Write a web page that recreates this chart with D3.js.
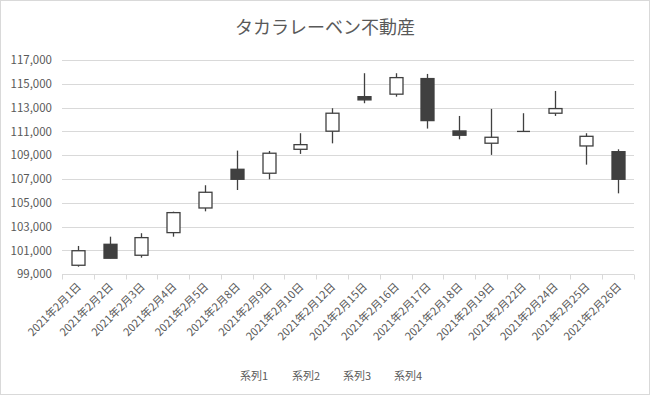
<!DOCTYPE html>
<html><head><meta charset="utf-8">
<script src="https://cdn.jsdelivr.net/npm/d3@7"></script>
<style>body{margin:0;background:#fff}svg{display:block}text{font-family:"Noto Sans CJK JP","Noto Sans",sans-serif}</style>
</head><body><svg id="c" width="650" height="395"></svg>
<script>
const categories = ["2021年2月1日","2021年2月2日","2021年2月3日","2021年2月4日","2021年2月5日","2021年2月8日","2021年2月9日","2021年2月10日","2021年2月12日","2021年2月15日","2021年2月16日","2021年2月17日","2021年2月18日","2021年2月19日","2021年2月22日","2021年2月24日","2021年2月25日","2021年2月26日"];
const openV  = [99760,101520,100600,102500,104570,107820,107490,109500,111020,113920,114130,115440,111040,110010,111000,112530,109780,109300];
const highV  = [101380,102160,102450,104260,106480,109390,109360,110850,112950,115890,115890,115830,112300,112890,112530,114400,110850,109500];
const lowV   = [99640,100340,100400,102160,104290,106080,106980,109110,110000,113370,113920,111240,110340,109030,111000,112300,108210,105800];
const closeV = [100980,100350,102080,104180,105890,106980,109170,109890,112530,113650,115520,111910,110680,110510,111000,112920,110590,106980];
const yTicks = [99000,101000,103000,105000,107000,109000,111000,113000,115000,117000];
const seriesNames = ["系列1","系列2","系列3","系列4"];
const title = "タカラレーベン不動産";

const svg = d3.select("#c");
svg.append("rect").attr("x",0.5).attr("y",0.5).attr("width",649).attr("height",394).attr("fill","#fff").attr("stroke","#d9d9d9");
svg.append("text").attr("x",325).attr("y",34).attr("text-anchor","middle").attr("font-size",18).attr("fill","#595959").text(title);

const L=62,R=634,T=60,B=274.3;
const x = d3.scaleBand().domain(categories).range([L,R]);
const y = d3.scaleLinear().domain([99000,117000]).range([B,T]);

const g = svg.append("g");
g.selectAll(".grid").data(yTicks.slice(1)).join("line")
 .attr("x1",L).attr("x2",R).attr("y1",d=>Math.round(y(d))+0.5).attr("y2",d=>Math.round(y(d))+0.5)
 .attr("stroke","#d9d9d9").attr("stroke-width",1);

const yAxis = svg.append("g").attr("transform",`translate(${L},0)`)
 .call(d3.axisLeft(y).tickValues(yTicks).tickFormat(d3.format(",")).tickSize(0).tickPadding(10));
yAxis.select(".domain").remove();
yAxis.selectAll("text").attr("font-size",11.5).attr("fill","#595959");

const by = Math.round(B)+0.5;
svg.append("line").attr("x1",L).attr("x2",R).attr("y1",by).attr("y2",by).attr("stroke","#d9d9d9");
const bounds = categories.map(c=>x(c)).concat([R]);
svg.selectAll(".xt").data(bounds).join("line").attr("x1",d=>Math.round(d)+0.5).attr("x2",d=>Math.round(d)+0.5)
 .attr("y1",by).attr("y2",by+5).attr("stroke","#d9d9d9");

svg.selectAll(".xl").data(categories).join("text")
 .attr("transform",d=>`translate(${x(d)+x.bandwidth()/2+4},${by+13}) rotate(-45)`)
 .attr("text-anchor","end").attr("font-size",11).attr("fill","#595959").text(d=>d);

const data = categories.map((c,i)=>({c,o:openV[i],h:highV[i],l:lowV[i],cl:closeV[i]}));
const bw = 13;
const cg = svg.append("g");
data.forEach(d=>{
  const cx = Math.round(x(d.c)+x.bandwidth()/2)+0.5;
  cg.append("line").attr("x1",cx).attr("x2",cx).attr("y1",y(d.h)).attr("y2",y(d.l)).attr("stroke","#404040").attr("stroke-width",1.3);
  const top = y(Math.max(d.o,d.cl)), bot = y(Math.min(d.o,d.cl));
  const up = d.cl>=d.o;
  if (d.o===d.cl) {
    cg.append("line").attr("x1",cx-bw/2).attr("x2",cx+bw/2).attr("y1",top).attr("y2",top).attr("stroke","#404040").attr("stroke-width",1.3);
  } else {
    cg.append("rect").attr("x",cx-bw/2).attr("y",top).attr("width",bw).attr("height",Math.max(bot-top,1))
      .attr("fill",up?"#fff":"#404040").attr("stroke","#404040").attr("stroke-width",1.3);
  }
});

const lx=[240,292,343,394];
svg.selectAll(".lg").data(seriesNames).join("text").attr("x",(d,i)=>lx[i]).attr("y",380)
 .attr("font-size",11).attr("fill","#595959").text(d=>d);
</script></body></html>
